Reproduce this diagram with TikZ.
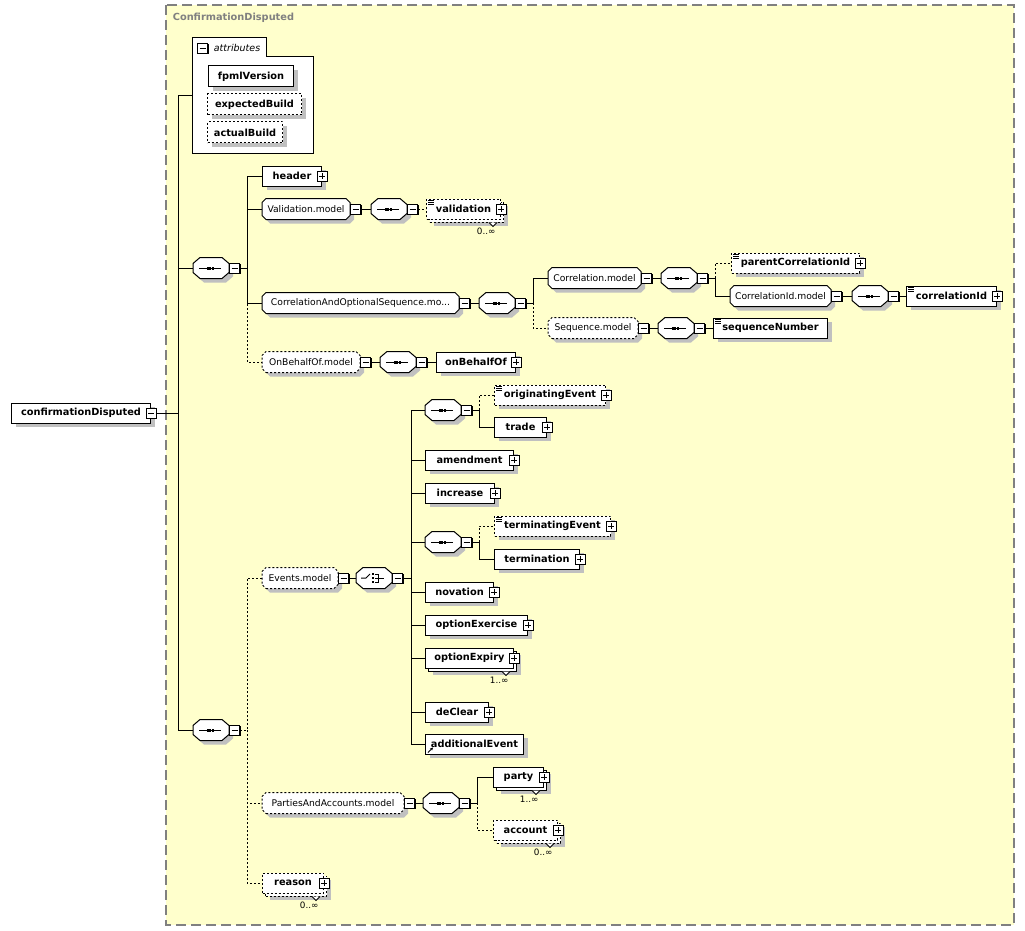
\documentclass[tikz,border=0pt]{standalone}
\usepackage{fontspec}
\setmainfont{DejaVu Sans}
\usetikzlibrary{shadows,arrows.meta}

\definecolor{fundo}{RGB}{255,255,204}
\definecolor{cinza}{RGB}{192,192,192}
\definecolor{borda}{RGB}{128,128,128}

% forma octogonal para grupos e compositores
\makeatletter
\newdimen\octxa \newdimen\octya \newdimen\octxb \newdimen\octyb \newdimen\octcx \newdimen\octcy
\pgfkeys{/pgf/chanfrox/.initial=4pt,/pgf/chanfroy/.initial=4pt}
\pgfdeclareshape{octogono}{%
  \inheritsavedanchors[from=rectangle]%
  \inheritanchorborder[from=rectangle]%
  \inheritanchor[from=rectangle]{center}%
  \inheritanchor[from=rectangle]{north}%
  \inheritanchor[from=rectangle]{south}%
  \inheritanchor[from=rectangle]{east}%
  \inheritanchor[from=rectangle]{west}%
  \inheritanchor[from=rectangle]{north east}%
  \inheritanchor[from=rectangle]{north west}%
  \inheritanchor[from=rectangle]{south east}%
  \inheritanchor[from=rectangle]{south west}%
  \backgroundpath{%
    \southwest \octxa=\pgf@x \octya=\pgf@y
    \northeast \octxb=\pgf@x \octyb=\pgf@y
    \pgfmathsetlength\octcx{\pgfkeysvalueof{/pgf/chanfrox}}%
    \pgfmathsetlength\octcy{\pgfkeysvalueof{/pgf/chanfroy}}%
    \pgfpathmoveto{\pgfpoint{\octxa+\octcx}{\octya}}%
    \pgfpathlineto{\pgfpoint{\octxb-\octcx}{\octya}}%
    \pgfpathlineto{\pgfpoint{\octxb}{\octya+\octcy}}%
    \pgfpathlineto{\pgfpoint{\octxb}{\octyb-\octcy}}%
    \pgfpathlineto{\pgfpoint{\octxb-\octcx}{\octyb}}%
    \pgfpathlineto{\pgfpoint{\octxa+\octcx}{\octyb}}%
    \pgfpathlineto{\pgfpoint{\octxa}{\octyb-\octcy}}%
    \pgfpathlineto{\pgfpoint{\octxa}{\octya+\octcy}}%
    \pgfpathclose
  }%
}
\makeatother

\tikzset{
  sombra/.style={drop shadow={shadow xshift=4pt,shadow yshift=-4pt,fill=cinza,opacity=1}},
  caixa/.style={draw,fill=white,minimum height=20pt,inner sep=0pt,anchor=west,
    font=\fontsize{9.8}{11}\selectfont\bfseries},
  elem/.style={caixa,sombra},
  multi/.style={caixa,drop shadow={shadow xshift=7pt,shadow yshift=-7pt,fill=cinza,opacity=1},
    copy shadow={shadow xshift=3pt,shadow yshift=-3pt}},
  opc/.style={dash pattern=on 2pt off 2pt},
  grupo/.style={shape=octogono,draw,fill=white,minimum height=20pt,inner sep=0pt,anchor=west,sombra,
    font=\fontsize{9.2}{11}\selectfont},
  seqc/.style={grupo,/pgf/chanfrox=7pt,/pgf/chanfroy=6pt,minimum width=35pt,
    path picture={
      \begin{scope}[shift={(path picture bounding box.center)}]
        \draw (-12,0) -- (10,0);
        \foreach \d in {-3.5,-1,1.5} \fill[black] (\d-1,-1.5) rectangle (\d+1,1.5);
      \end{scope}}},
  choicec/.style={grupo,/pgf/chanfrox=7pt,/pgf/chanfroy=6pt,minimum width=35pt,
    path picture={
      \begin{scope}[shift={(path picture bounding box.center)}]
        \draw (-13,0) -- (-8,0) -- (-4,-4);
        \foreach \d in {-4,0,4} \fill[black] (-2.5,\d-1.2) rectangle (0,\d+1.2);
        \draw (1,-4) -- (4,-4) -- (4,4) -- (1,4) (1,0) -- (10,0);
      \end{scope}}},
  botao/.style={draw,fill=white,minimum size=10pt,inner sep=0pt,
    drop shadow={shadow xshift=1pt,shadow yshift=-1pt,fill=black,opacity=1}},
  menos/.style={botao,path picture={\draw ([xshift=2pt]path picture bounding box.west) -- ([xshift=-2pt]path picture bounding box.east);}},
  mais/.style={botao,path picture={\draw ([xshift=2pt]path picture bounding box.west) -- ([xshift=-2pt]path picture bounding box.east)
    ([yshift=-2pt]path picture bounding box.north) -- ([yshift=2pt]path picture bounding box.south);}},
}

% conteudo simples (tres tracos) e multiplicidade
\newcommand{\simples}[1]{\draw[line width=0.8pt] \foreach \k in {0,2,4} {([shift={(2,2+\k)}]#1.north west) -- ++(6,0)};}
\newcommand{\mult}[2]{%
  \draw[fill=white] ([shift={(-12,3)}]#1.south east) -- ++(4,4) -- ++(4,-4);
  \node[anchor=north east,inner sep=1pt,font=\fontsize{8.8}{10}\selectfont] (#1-m) at ([shift={(-4,7)}]#1.south east) {#2};}

\begin{document}
\begin{tikzpicture}[x=1pt,y=-1pt,line width=1pt]
    \useasboundingbox (0,0) rectangle (1025,931);
    % Fundo do tipo
    \filldraw[fill=fundo,draw=borda,line width=1.5pt,dash pattern=on 10pt off 5pt] (166,5) rectangle (1014,925);
    \node[anchor=west,text=borda,font=\fontsize{9.8}{11}\selectfont\bfseries] (titulo) at (169,18) {ConfirmationDisputed};
    % Elemento raiz
    \node[elem,minimum width=139pt] (raiz) at (11,413) {confirmationDisputed};
    \node[menos] (raiz-pm) at (raiz.east) {};
    % Atributos
    \node[minimum width=120pt,minimum height=115pt,inner sep=0pt] (atributos) at (253,95.5) {};
    \filldraw[fill=white] (atributos.south west) -- (atributos.north west) -- ++(74,0) -- ++(0,19) -| (atributos.south east) -- cycle;
    \node[menos] (atributos-pm) at ([shift={(10,11)}]atributos.north west) {};
    \node[anchor=west,font=\fontsize{9.5}{11}\selectfont\itshape] (atributos-t) at (210,48) {attributes};
    \node[elem,minimum width=85pt,minimum height=21pt] (fpml) at (208,76.5) {fpmlVersion};
    \node[elem,opc,minimum width=94pt,minimum height=21pt] (expected) at (207,104.5) {expectedBuild};
    \node[elem,opc,minimum width=75pt,minimum height=21pt] (actual) at (207,132.5) {actualBuild};
    % Barramentos
    \coordinate (b0) at (178,0);
    \coordinate (b1) at (247,0);
    \coordinate (b2) at (533,0);
    \coordinate (b3) at (715,0);
    \coordinate (b5) at (411,0);
    \coordinate (b6) at (479,0);
    \coordinate (b7) at (477,0);
    % Sequencias principais
    \node[seqc] (seq1) at (193,268) {};
    \node[menos,anchor=west] (seq1-pm) at (seq1.east) {};
    \node[seqc] (seq2) at (193,730) {};
    \node[menos,anchor=west] (seq2-pm) at (seq2.east) {};
    % Ramo superior
    \node[elem,minimum width=59pt] (header) at (262,176) {header};
    \node[mais] (header-pm) at (header.east) {};
    \node[grupo,minimum width=87pt] (valmodel) at (262,209) {Validation.model};
    \node[menos,anchor=west] (valmodel-pm) at (valmodel.east) {};
    \node[seqc] (seqv) at (371,209) {};
    \node[menos,anchor=west] (seqv-pm) at (seqv.east) {};
    \node[multi,opc,minimum width=74pt] (validation) at (426,209) {validation};
    \node[mais] (validation-pm) at (validation.east) {};
    \simples{validation}
    \mult{validation}{0..∞}
    \node[grupo,minimum width=196pt] (corrseq) at (262,303) {CorrelationAndOptionalSequence.mo...};
    \node[menos,anchor=west] (corrseq-pm) at (corrseq.east) {};
    \node[seqc] (seqc1) at (479,303) {};
    \node[menos,anchor=west] (seqc1-pm) at (seqc1.east) {};
    \node[grupo,minimum width=92pt] (corrmodel) at (548,278) {Correlation.model};
    \node[menos,anchor=west] (corrmodel-pm) at (corrmodel.east) {};
    \node[seqc] (seqc2) at (661,278) {};
    \node[menos,anchor=west] (seqc2-pm) at (seqc2.east) {};
    \node[elem,opc,minimum width=128pt] (parentcorr) at (731,263) {parentCorrelationId};
    \node[mais] (parentcorr-pm) at (parentcorr.east) {};
    \simples{parentcorr}
    \node[grupo,minimum width=100pt] (corridmodel) at (730,296) {CorrelationId.model};
    \node[menos,anchor=west] (corridmodel-pm) at (corridmodel.east) {};
    \node[seqc] (seqc3) at (852,296) {};
    \node[menos,anchor=west] (seqc3-pm) at (seqc3.east) {};
    \node[elem,minimum width=90pt] (corrid) at (906,296) {correlationId};
    \node[mais] (corrid-pm) at (corrid.east) {};
    \simples{corrid}
    \node[grupo,opc,minimum width=89pt] (seqmodel) at (548,328) {Sequence.model};
    \node[menos,anchor=west] (seqmodel-pm) at (seqmodel.east) {};
    \node[seqc] (seqc4) at (658,328) {};
    \node[menos,anchor=west] (seqc4-pm) at (seqc4.east) {};
    \node[elem,minimum width=114pt] (seqnum) at (713,328) {sequenceNumber};
    \simples{seqnum}
    \node[grupo,opc,minimum width=97pt] (obomodel) at (262,362) {OnBehalfOf.model};
    \node[menos,anchor=west] (obomodel-pm) at (obomodel.east) {};
    \node[seqc] (seqo) at (380,362) {};
    \node[menos,anchor=west] (seqo-pm) at (seqo.east) {};
    \node[elem,minimum width=79pt] (obo) at (436,362) {onBehalfOf};
    \node[mais] (obo-pm) at (obo.east) {};
    % Ramo inferior
    \node[grupo,opc,minimum width=75pt] (eventsmodel) at (262,578) {Events.model};
    \node[menos,anchor=west] (eventsmodel-pm) at (eventsmodel.east) {};
    \node[choicec] (escolha) at (356,578) {};
    \node[menos,anchor=west] (escolha-pm) at (escolha.east) {};
    \node[seqc] (seqe1) at (425,410) {};
    \node[menos,anchor=west] (seqe1-pm) at (seqe1.east) {};
    \node[elem,opc,minimum width=111pt] (origevent) at (494,395) {originatingEvent};
    \node[mais] (origevent-pm) at (origevent.east) {};
    \simples{origevent}
    \node[elem,minimum width=52pt] (trade) at (494,427) {trade};
    \node[mais] (trade-pm) at (trade.east) {};
    \foreach \n/\w/\y in {amendment/88/460, increase/69/493, novation/68/592, optionExercise/102/625, deClear/63/712} {
        \node[elem,minimum width=\w pt] (\n) at (425,\y) {\n};
        \node[mais] (\n-pm) at (\n.east) {};
    }
    \node[seqc] (seqe2) at (425,542) {};
    \node[menos,anchor=west] (seqe2-pm) at (seqe2.east) {};
    \node[elem,opc,minimum width=116pt] (termevent) at (494,526) {terminatingEvent};
    \node[mais] (termevent-pm) at (termevent.east) {};
    \simples{termevent}
    \node[elem,minimum width=85pt] (termination) at (494,559) {termination};
    \node[mais] (termination-pm) at (termination.east) {};
    \node[multi,minimum width=88pt] (optexpiry) at (425,658) {optionExpiry};
    \node[mais] (optexpiry-pm) at (optexpiry.east) {};
    \mult{optexpiry}{1..∞}
    \node[elem,minimum width=98pt] (addevent) at (425,744) {additionalEvent};
    \draw[-{Stealth[length=3pt,width=3pt]}] ([shift={(3,-2)}]addevent.south west) -- ++(5,-5);
    \node[grupo,opc,minimum width=141pt] (partiesmodel) at (262,803) {PartiesAndAccounts.model};
    \node[menos,anchor=west] (partiesmodel-pm) at (partiesmodel.east) {};
    \node[seqc] (seqp) at (423,803) {};
    \node[menos,anchor=west] (seqp-pm) at (seqp.east) {};
    \node[multi,minimum width=50pt] (party) at (493,777) {party};
    \node[mais] (party-pm) at (party.east) {};
    \mult{party}{1..∞}
    \node[multi,opc,minimum width=64pt] (account) at (493,830) {account};
    \node[mais] (account-pm) at (account.east) {};
    \mult{account}{0..∞}
    \node[multi,opc,minimum width=61pt] (reason) at (262,883) {reason};
    \node[mais] (reason-pm) at (reason.east) {};
    \mult{reason}{0..∞}
    % Ligacoes
    \draw (raiz-pm.east) -- (raiz-pm.east -| b0) |- (atributos.west);
    \foreach \n in {seq1,seq2} \draw (raiz-pm.east -| b0) |- (\n.west);
    \draw (seq1-pm.east) -- (seq1-pm.east -| b1) |- (header.west);
    \foreach \n in {valmodel,corrseq} \draw (seq1-pm.east -| b1) |- (\n.west);
    \draw[opc] (seq1-pm.east -| b1) |- (obomodel.west);
    \draw (valmodel-pm.east) -- (seqv.west);
    \draw[opc] (seqv-pm.east) -- (validation.west);
    \draw (corrseq-pm.east) -- (seqc1.west);
    \draw (seqc1-pm.east) -- (seqc1-pm.east -| b2) |- (corrmodel.west);
    \draw[opc] (seqc1-pm.east -| b2) |- (seqmodel.west);
    \draw (corrmodel-pm.east) -- (seqc2.west);
    \draw (seqc2-pm.east) -- (seqc2-pm.east -| b3) |- (corridmodel.west);
    \draw[opc] (seqc2-pm.east -| b3) |- (parentcorr.west);
    \draw (corridmodel-pm.east) -- (seqc3.west);
    \draw (seqc3-pm.east) -- (corrid.west);
    \draw (seqmodel-pm.east) -- (seqc4.west);
    \draw (seqc4-pm.east) -- (seqnum.west);
    \draw (obomodel-pm.east) -- (seqo.west);
    \draw (seqo-pm.east) -- (obo.west);
    \draw[opc] (seq2-pm.east) -- (seq2-pm.east -| b1) |- (eventsmodel.west);
    \foreach \n in {partiesmodel,reason} \draw[opc] (seq2-pm.east -| b1) |- (\n.west);
    \draw (eventsmodel-pm.east) -- (escolha.west);
    \draw (escolha-pm.east) -- (escolha-pm.east -| b5) |- (seqe1.west);
    \foreach \n in {amendment,increase,seqe2,novation,optionExercise,optexpiry,deClear,addevent}
        \draw (escolha-pm.east -| b5) |- (\n.west);
    \draw (seqe1-pm.east) -- (seqe1-pm.east -| b6) |- (trade.west);
    \draw[opc] (seqe1-pm.east -| b6) |- (origevent.west);
    \draw (seqe2-pm.east) -- (seqe2-pm.east -| b6) |- (termination.west);
    \draw[opc] (seqe2-pm.east -| b6) |- (termevent.west);
    \draw (partiesmodel-pm.east) -- (seqp.west);
    \draw (seqp-pm.east) -- (seqp-pm.east -| b7) |- (party.west);
    \draw[opc] (seqp-pm.east -| b7) |- (account.west);
\end{tikzpicture}
\end{document}
